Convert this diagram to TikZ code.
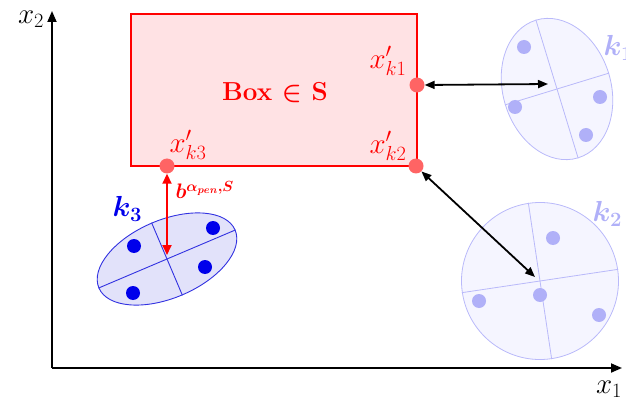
\documentclass[tikz,border=0pt]{standalone}
\usepackage{fix-cm}
\usepackage{amsmath,bm}
\usetikzlibrary{shapes.geometric,arrows.meta}
\definecolor{boxred}{RGB}{255,0,0}
\definecolor{boxfill}{RGB}{255,226,228}
\definecolor{dotred}{RGB}{255,100,100}
\definecolor{lavline}{RGB}{185,185,250}
\definecolor{lavfill}{RGB}{245,245,255}
\definecolor{lavdot}{RGB}{176,176,248}
\definecolor{blueline}{RGB}{50,50,225}
\definecolor{bluefill}{RGB}{226,226,250}
\definecolor{bluedot}{RGB}{0,0,235}
\begin{document}
\begin{tikzpicture}[x=1pt,y=-1pt,
  axisline/.style={line width=1.8pt,-{Triangle[length=11pt,width=9pt]}},
  blackarrow/.style={line width=1.8pt,{Triangle[length=10pt,width=8pt]}-{Triangle[length=10pt,width=8pt]}},
  redarrow/.style={line width=1.8pt,draw=red,{Triangle[length=10pt,width=9pt]}-{Triangle[length=10pt,width=9pt]}},
  reddot/.style={circle,fill=dotred,inner sep=0pt,minimum size=15pt},
  lavdotst/.style={circle,fill=lavdot,inner sep=0pt,minimum size=14pt},
  bluedotst/.style={circle,fill=bluedot,inner sep=0pt,minimum size=14pt},
  lavshape/.style={draw=lavline,fill=lavfill,line width=0.8pt,inner sep=0pt},
  blueshape/.style={draw=blueline,fill=bluefill,line width=0.9pt,inner sep=0pt},
  mathlbl/.style={font=\fontsize{29}{32}\selectfont},
]
\useasboundingbox (0,0) rectangle (626,406);
% axes
\coordinate (O) at (52,368);
\coordinate (ytop) at (52,11);
\coordinate (xend) at (622,368);
\draw[axisline] (O) -- (ytop);
\draw[axisline] (O) -- (xend);
\node[mathlbl] (x2) at (31,19) {$x_2$};
\node[mathlbl] (x1) at (609,389) {$x_1$};
% box
\node[draw=boxred,fill=boxfill,line width=1.2pt,minimum width=286pt,minimum height=152pt,inner sep=0pt] (box) at (274,90) {};
\node[text=boxred,font=\fontsize{26}{30}\selectfont\bfseries] (boxlbl) at (275,93) {Box $\bm{\in}$ S};
% k1 cluster
\node[lavshape,ellipse,minimum width=108pt,minimum height=144pt,rotate=17] (k1) at (557,89) {};
\draw[lavline,line width=0.8pt] (k1.west) -- (k1.east);
\draw[lavline,line width=0.8pt] (k1.north) -- (k1.south);
\node[lavdotst] (k1a) at (524,47) {};
\node[lavdotst] (k1b) at (515,107) {};
\node[lavdotst] (k1c) at (600,97) {};
\node[lavdotst] (k1d) at (586,135) {};
\node[anchor=west,text=lavdot,font=\fontsize{29}{32}\selectfont] (k1lbl) at (600,48) {$\bm{k_1}$};
% k2 cluster
\node[lavshape,circle,minimum size=157pt,rotate=8.5] (k2) at (540,281) {};
\draw[lavline,line width=0.8pt] (k2.west) -- (k2.east);
\draw[lavline,line width=0.8pt] (k2.north) -- (k2.south);
\node[lavdotst] (k2a) at (553,238) {};
\node[lavdotst] (k2b) at (479,301) {};
\node[lavdotst] (k2c) at (540,295) {};
\node[lavdotst] (k2d) at (599,315) {};
\node[anchor=west,text=lavdot,font=\fontsize{29}{32}\selectfont] (k2lbl) at (589,214) {$\bm{k_2}$};
% k3 cluster
\node[blueshape,ellipse,minimum width=148pt,minimum height=78pt,rotate=23] (k3) at (167,259) {};
\draw[blueline,line width=0.9pt] (k3.west) -- (k3.east);
\draw[blueline,line width=0.9pt] (k3.north) -- (k3.south);
\node[bluedotst] (k3a) at (134,246) {};
\node[bluedotst] (k3b) at (213,228) {};
\node[bluedotst] (k3c) at (205,267) {};
\node[bluedotst] (k3d) at (133,293) {};
\node[anchor=west,text=bluedot,font=\fontsize{29}{32}\selectfont] (k3lbl) at (109,209) {$\bm{k_3}$};
% red points
\node[reddot] (p1) at (417,85) {};
\node[reddot] (p2) at (416,166) {};
\node[reddot] (p3) at (167,166) {};
\node[mathlbl,text=red] (p1lbl) at (388,61) {$x'_{k1}$};
\node[mathlbl,text=red] (p2lbl) at (388,146) {$x'_{k2}$};
\node[mathlbl,text=red] (p3lbl) at (188,145) {$x'_{k3}$};
% arrows
\coordinate (k1tip) at (548,84);
\coordinate (k2tip) at (535,277);
\coordinate (k3tip) at (167,255);
\draw[blackarrow] (p1.east) -- (k1tip);
\draw[blackarrow] (p2.south east) -- (k2tip);
\draw[redarrow] (p3.south) -- (k3tip);
\node[anchor=west,text=red,font=\fontsize{21}{24}\selectfont] (blbl) at (172,190) {$\bm{b^{\alpha_{pen},S}}$};
\end{tikzpicture}
\end{document}
